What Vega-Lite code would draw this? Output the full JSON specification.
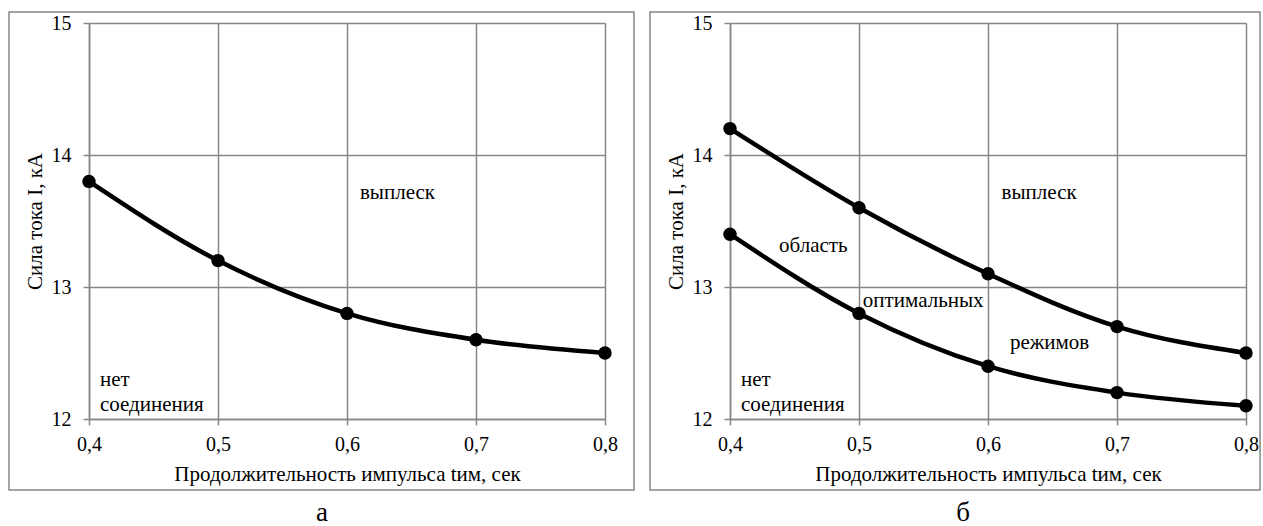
{
  "$schema": "https://vega.github.io/schema/vega-lite/v6.json",
  "padding": {"left": 8, "top": 11, "right": 0, "bottom": 0},
  "background": "white",
  "config": {
    "font": "Liberation Serif, Times New Roman, serif",
    "view": {"stroke": null},
    "axis": {
      "labelFont": "Liberation Serif, Times New Roman, serif", "labelFontSize": 20, "labelColor": "black",
      "titleFont": "Liberation Serif, Times New Roman, serif", "titleFontSize": 21, "titleFontWeight": "normal", "titleColor": "black",
      "grid": true,
      "gridColor": "#878787", "gridWidth": 1.5, "gridOpacity": 1,
      "domainColor": "#878787", "domainWidth": 1.5,
      "tickColor": "#878787", "tickWidth": 1.5, "tickSize": 6,
      "labelFlush": false, "labelOverlap": false
    },
    "axisX": {"labelPadding": 9, "titlePadding": 9},
    "axisY": {"labelPadding": 12, "titlePadding": 6},
    "title": {"font": "Liberation Serif, Times New Roman, serif", "fontSize": 27, "fontWeight": "normal", "color": "black", "orient": "bottom", "anchor": "middle", "offset": 9, "dx": -25},
    "concat": {"spacing": 14}
  },
  "datasets": {
    "curves": [
      {"panel": "а", "s": "1", "t": 0.4, "I": 13.8},
      {"panel": "а", "s": "1", "t": 0.5, "I": 13.2},
      {"panel": "а", "s": "1", "t": 0.6, "I": 12.8},
      {"panel": "а", "s": "1", "t": 0.7, "I": 12.6},
      {"panel": "а", "s": "1", "t": 0.8, "I": 12.5},
      {"panel": "б", "s": "upper", "t": 0.4, "I": 14.2},
      {"panel": "б", "s": "upper", "t": 0.5, "I": 13.6},
      {"panel": "б", "s": "upper", "t": 0.6, "I": 13.1},
      {"panel": "б", "s": "upper", "t": 0.7, "I": 12.7},
      {"panel": "б", "s": "upper", "t": 0.8, "I": 12.5},
      {"panel": "б", "s": "lower", "t": 0.4, "I": 13.4},
      {"panel": "б", "s": "lower", "t": 0.5, "I": 12.8},
      {"panel": "б", "s": "lower", "t": 0.6, "I": 12.4},
      {"panel": "б", "s": "lower", "t": 0.7, "I": 12.2},
      {"panel": "б", "s": "lower", "t": 0.8, "I": 12.1}
    ],
    "notes": [
      {"panel": "а", "x": 0.610, "y": 13.71, "label": "выплеск"},
      {"panel": "а", "x": 0.4085, "y": 12.295, "label": "нет"},
      {"panel": "а", "x": 0.4085, "y": 12.106, "label": "соединения"},
      {"panel": "б", "x": 0.6105, "y": 13.71, "label": "выплеск"},
      {"panel": "б", "x": 0.438, "y": 13.31, "label": "область"},
      {"panel": "б", "x": 0.503, "y": 12.894, "label": "оптимальных"},
      {"panel": "б", "x": 0.617, "y": 12.576, "label": "режимов"},
      {"panel": "б", "x": 0.4085, "y": 12.295, "label": "нет"},
      {"panel": "б", "x": 0.4085, "y": 12.106, "label": "соединения"}
    ]
  },
  "hconcat": [
    {
      "width": 516, "height": 396,
      "title": {"text": "а"},
      "layer": [
        {
          "data": {"values": [{}]},
          "mark": {"type": "rect", "filled": false, "stroke": "#878787", "strokeWidth": 1.5, "clip": false},
          "encoding": {
            "x": {"datum": 0.338, "type": "quantitative", "scale": {"domain": [0.4, 0.8]},
                  "axis": {"title": "Продолжительность импульса tим, сек", "grid": true, "values": [0.4, 0.5, 0.6, 0.7, 0.8], "format": ".1f", "labelExpr": "replace(datum.label, '.', ',')"}},
            "x2": {"datum": 0.8225},
            "y": {"datum": 15.083, "type": "quantitative", "scale": {"domain": [12, 15]},
                  "axis": {"title": "Сила тока I, кА", "grid": true, "values": [12, 13, 14, 15]}},
            "y2": {"datum": 11.462}
          }
        },
        {
          "data": {"name": "curves"},
          "transform": [{"filter": "datum.panel === 'а'"}],
          "mark": {"type": "line", "color": "black", "strokeWidth": 4.5, "interpolate": "monotone"},
          "encoding": {
            "x": {"field": "t", "type": "quantitative", "scale": {"domain": [0.4, 0.8]},
                  "axis": {"title": "Продолжительность импульса tим, сек", "grid": true, "values": [0.4, 0.5, 0.6, 0.7, 0.8], "format": ".1f", "labelExpr": "replace(datum.label, '.', ',')"}},
            "y": {"field": "I", "type": "quantitative", "scale": {"domain": [12, 15]},
                  "axis": {"title": "Сила тока I, кА", "grid": true, "values": [12, 13, 14, 15]}},
            "detail": {"field": "s"}
          }
        },
        {
          "data": {"name": "curves"},
          "transform": [{"filter": "datum.panel === 'а'"}],
          "mark": {"type": "point", "filled": true, "color": "black", "size": 180, "opacity": 1},
          "encoding": {
            "x": {"field": "t", "type": "quantitative", "scale": {"domain": [0.4, 0.8]},
                  "axis": {"title": "Продолжительность импульса tим, сек", "grid": true, "values": [0.4, 0.5, 0.6, 0.7, 0.8], "format": ".1f", "labelExpr": "replace(datum.label, '.', ',')"}},
            "y": {"field": "I", "type": "quantitative", "scale": {"domain": [12, 15]},
                  "axis": {"title": "Сила тока I, кА", "grid": true, "values": [12, 13, 14, 15]}}
          }
        },
        {
          "data": {"name": "notes"},
          "transform": [{"filter": "datum.panel === 'а'"}],
          "mark": {"type": "text", "align": "left", "baseline": "middle", "font": "Liberation Serif, Times New Roman, serif", "fontSize": 21, "color": "black"},
          "encoding": {
            "x": {"field": "x", "type": "quantitative", "scale": {"domain": [0.4, 0.8]},
                  "axis": {"title": "Продолжительность импульса tим, сек", "grid": true, "values": [0.4, 0.5, 0.6, 0.7, 0.8], "format": ".1f", "labelExpr": "replace(datum.label, '.', ',')"}},
            "y": {"field": "y", "type": "quantitative", "scale": {"domain": [12, 15]},
                  "axis": {"title": "Сила тока I, кА", "grid": true, "values": [12, 13, 14, 15]}},
            "text": {"field": "label"}
          }
        }
      ]
    },
    {
      "width": 516, "height": 396,
      "title": {"text": "б"},
      "layer": [
        {
          "data": {"values": [{}]},
          "mark": {"type": "rect", "filled": false, "stroke": "#878787", "strokeWidth": 1.5, "clip": false},
          "encoding": {
            "x": {"datum": 0.338, "type": "quantitative", "scale": {"domain": [0.4, 0.8]},
                  "axis": {"title": "Продолжительность импульса tим, сек", "grid": true, "values": [0.4, 0.5, 0.6, 0.7, 0.8], "format": ".1f", "labelExpr": "replace(datum.label, '.', ',')"}},
            "x2": {"datum": 0.8109},
            "y": {"datum": 15.083, "type": "quantitative", "scale": {"domain": [12, 15]},
                  "axis": {"title": "Сила тока I, кА", "grid": true, "values": [12, 13, 14, 15]}},
            "y2": {"datum": 11.462}
          }
        },
        {
          "data": {"name": "curves"},
          "transform": [{"filter": "datum.panel === 'б'"}],
          "mark": {"type": "line", "color": "black", "strokeWidth": 4.5, "interpolate": "monotone"},
          "encoding": {
            "x": {"field": "t", "type": "quantitative", "scale": {"domain": [0.4, 0.8]},
                  "axis": {"title": "Продолжительность импульса tим, сек", "grid": true, "values": [0.4, 0.5, 0.6, 0.7, 0.8], "format": ".1f", "labelExpr": "replace(datum.label, '.', ',')"}},
            "y": {"field": "I", "type": "quantitative", "scale": {"domain": [12, 15]},
                  "axis": {"title": "Сила тока I, кА", "grid": true, "values": [12, 13, 14, 15]}},
            "detail": {"field": "s"}
          }
        },
        {
          "data": {"name": "curves"},
          "transform": [{"filter": "datum.panel === 'б'"}],
          "mark": {"type": "point", "filled": true, "color": "black", "size": 180, "opacity": 1},
          "encoding": {
            "x": {"field": "t", "type": "quantitative", "scale": {"domain": [0.4, 0.8]},
                  "axis": {"title": "Продолжительность импульса tим, сек", "grid": true, "values": [0.4, 0.5, 0.6, 0.7, 0.8], "format": ".1f", "labelExpr": "replace(datum.label, '.', ',')"}},
            "y": {"field": "I", "type": "quantitative", "scale": {"domain": [12, 15]},
                  "axis": {"title": "Сила тока I, кА", "grid": true, "values": [12, 13, 14, 15]}}
          }
        },
        {
          "data": {"name": "notes"},
          "transform": [{"filter": "datum.panel === 'б'"}],
          "mark": {"type": "text", "align": "left", "baseline": "middle", "font": "Liberation Serif, Times New Roman, serif", "fontSize": 21, "color": "black"},
          "encoding": {
            "x": {"field": "x", "type": "quantitative", "scale": {"domain": [0.4, 0.8]},
                  "axis": {"title": "Продолжительность импульса tим, сек", "grid": true, "values": [0.4, 0.5, 0.6, 0.7, 0.8], "format": ".1f", "labelExpr": "replace(datum.label, '.', ',')"}},
            "y": {"field": "y", "type": "quantitative", "scale": {"domain": [12, 15]},
                  "axis": {"title": "Сила тока I, кА", "grid": true, "values": [12, 13, 14, 15]}},
            "text": {"field": "label"}
          }
        }
      ]
    }
  ]
}
